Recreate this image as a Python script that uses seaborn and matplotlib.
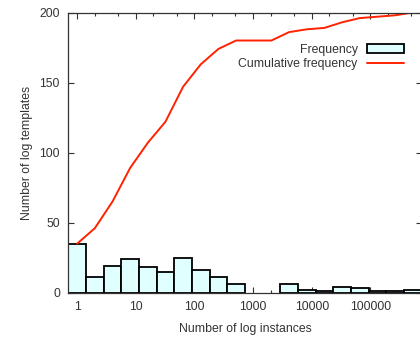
import seaborn as sns
import numpy as np
import matplotlib.pyplot as plt
from matplotlib.ticker import LogLocator, FixedLocator, NullFormatter

# bin centres (number of log instances) and template counts per bin
instances = [1, 2, 4, 8, 16, 32, 64, 128, 256, 512, 1024, 2048,
             4096, 8192, 16384, 32768, 65536, 131072, 262144, 524288]
frequency = [35, 11, 19, 24, 18, 15, 25, 16, 11, 6, 0, 0,
             6, 2, 1, 4, 3, 1, 1, 2]
cumulative = np.cumsum(frequency)

xticks = [1, 10, 100, 1000, 10000, 100000]
xticklabels = ['1', '10', '100', '1000', '10000', '100000']
yticks = [0, 50, 100, 150, 200]

sns.set_style("ticks")
plt.rcParams['font.family'] = ['Liberation Sans', 'DejaVu Sans']
plt.rcParams['font.size'] = 8.8
txt = '#333333'

fig = plt.figure(figsize=(4.2, 3.38), dpi=100)
ax = fig.add_axes([68.3/420, (338-292.7)/338, (421.5-68.3)/420, (292.7-12.5)/338])

lo = np.log10(instances[0] / np.sqrt(2))
hi = np.log10(instances[-1] * np.sqrt(2))
sns.histplot(x=instances, weights=frequency, bins=len(instances), binrange=(lo, hi),
             log_scale=True, color='#e0ffff', alpha=1, edgecolor='black',
             linewidth=1.3, label='Frequency', ax=ax)
for p in ax.patches:
    if p.get_height() == 0:
        p.set_visible(False)

sns.lineplot(x=instances, y=cumulative, color='#ff2200', linewidth=1.4,
             label='Cumulative frequency', ax=ax)

ax.set_xlim(10**lo, 10**hi)
ax.set_ylim(0, 200)
ax.xaxis.set_major_locator(FixedLocator(xticks))
ax.set_xticklabels(xticklabels)
ax.xaxis.set_minor_locator(LogLocator(base=10, subs=(2, 5)))
ax.xaxis.set_minor_formatter(NullFormatter())
ax.set_yticks(yticks)

ax.tick_params(which='both', direction='in', top=True, right=True, colors=txt,
               labelcolor=txt, labelsize=8.8, width=0.8)
ax.tick_params(which='major', length=4, pad=6)
ax.tick_params(which='minor', length=2.2)
for s in ax.spines.values():
    s.set_color(txt)
    s.set_linewidth(0.9)

ax.set_xlabel('Number of log instances', color=txt, fontsize=8.8, labelpad=7.5)
ax.set_ylabel('Number of log templates', color=txt, fontsize=8.8, labelpad=5)

h, l = ax.get_legend_handles_labels()
order = [l.index('Frequency'), l.index('Cumulative frequency')]
leg = ax.legend([h[i] for i in order], [l[i] for i in order], loc='upper right',
                bbox_to_anchor=(404/420, 1 - 44/338),
                bbox_transform=fig.transFigure, markerfirst=False, frameon=False,
                handlelength=3.0, handletextpad=0.8, borderpad=0, borderaxespad=0,
                labelspacing=0.2, fontsize=8.8)
for t in leg.get_texts():
    t.set_color(txt)
    t.set_ha('right')

fig.savefig('out.png', dpi=100)
